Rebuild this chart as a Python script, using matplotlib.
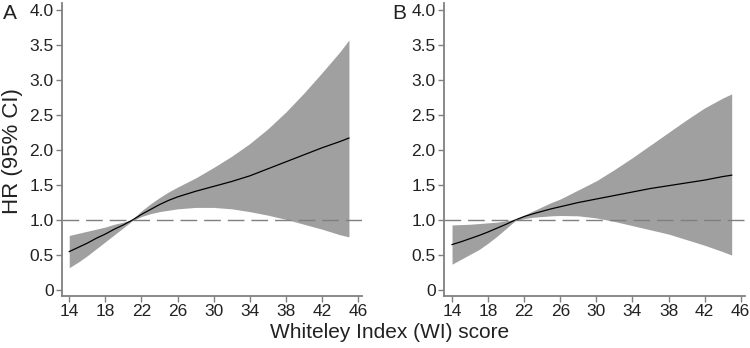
import matplotlib.pyplot as plt

plt.rcParams['font.family'] = ['Liberation Sans', 'DejaVu Sans']

wi = [14, 15, 16, 17, 18, 19, 20, 21, 22, 23, 24, 25, 26, 28, 30, 32, 34, 36, 38, 40, 42, 44, 45]

hr_a = [0.55, 0.61, 0.67, 0.74, 0.80, 0.87, 0.93, 1.00, 1.08, 1.15, 1.22, 1.28, 1.33, 1.41, 1.48, 1.55, 1.63, 1.73, 1.83, 1.93, 2.03, 2.12, 2.17]
up_a = [0.78, 0.81, 0.84, 0.87, 0.90, 0.94, 0.97, 1.01, 1.13, 1.23, 1.32, 1.40, 1.47, 1.60, 1.75, 1.91, 2.09, 2.30, 2.54, 2.81, 3.10, 3.40, 3.57]
lo_a = [0.32, 0.40, 0.49, 0.59, 0.69, 0.79, 0.89, 0.99, 1.05, 1.09, 1.12, 1.14, 1.16, 1.18, 1.18, 1.16, 1.12, 1.07, 1.01, 0.94, 0.87, 0.79, 0.76]

hr_b = [0.65, 0.69, 0.735, 0.78, 0.83, 0.885, 0.94, 1.00, 1.05, 1.09, 1.125, 1.16, 1.19, 1.25, 1.30, 1.35, 1.40, 1.45, 1.49, 1.53, 1.57, 1.62, 1.64]
up_b = [0.93, 0.935, 0.94, 0.95, 0.96, 0.97, 0.99, 1.01, 1.07, 1.13, 1.19, 1.25, 1.30, 1.43, 1.56, 1.72, 1.89, 2.07, 2.25, 2.43, 2.60, 2.74, 2.80]
lo_b = [0.37, 0.44, 0.51, 0.58, 0.67, 0.77, 0.88, 0.99, 1.02, 1.04, 1.05, 1.06, 1.065, 1.06, 1.03, 0.98, 0.92, 0.86, 0.80, 0.72, 0.64, 0.55, 0.50]

xticks = [14, 18, 22, 26, 30, 34, 38, 42, 46]
yticks = [0, 0.5, 1.0, 1.5, 2.0, 2.5, 3.0, 3.5, 4.0]
ytick_labels = ['0', '0.5', '1.0', '1.5', '2.0', '2.5', '3.0', '3.5', '4.0']

fig = plt.figure(figsize=(7.5, 3.48), dpi=100)
ax_a = fig.add_axes([0.0827, 0.149, 0.400, 0.841])
ax_b = fig.add_axes([0.592, 0.149, 0.401, 0.841])

panels = [(ax_a, hr_a, up_a, lo_a, 13.2), (ax_b, hr_b, up_b, lo_b, 13.11)]
for ax, hr, up, lo, xmin in panels:
    ax.fill_between(wi, lo, up, color='#a0a0a0', linewidth=0)
    ax.plot(wi, hr, color='black', linewidth=0.9)
    ax.axhline(1.0, color='#7f7f7f', linewidth=1.0, dashes=(12, 5))
    ax.set_xlim(xmin, 46.45)
    ax.set_ylim(-0.086, 4.09)
    ax.set_xticks(xticks)
    ax.set_yticks(yticks)
    ax.set_yticklabels(ytick_labels)
    for side in ['top', 'right']:
        ax.spines[side].set_visible(False)
    for side in ['left', 'bottom']:
        ax.spines[side].set_color('#808080')
        ax.spines[side].set_linewidth(1.3)
    ax.tick_params(colors='#808080', labelcolor='#222222', labelsize=12.5, length=4, width=1.0, pad=2)

fig.text(0.004, 0.962, 'A', fontsize=15, color='#222222', va='center')
fig.text(0.523, 0.962, 'B', fontsize=15, color='#222222', va='center')
fig.text(0.017, 0.565, 'HR (95% CI)', fontsize=16, color='#222222', rotation=90, ha='center', va='center')
fig.text(0.52, 0.045, 'Whiteley Index (WI) score', fontsize=15, color='#222222', ha='center', va='center')

fig.savefig('out.png', dpi=100)
